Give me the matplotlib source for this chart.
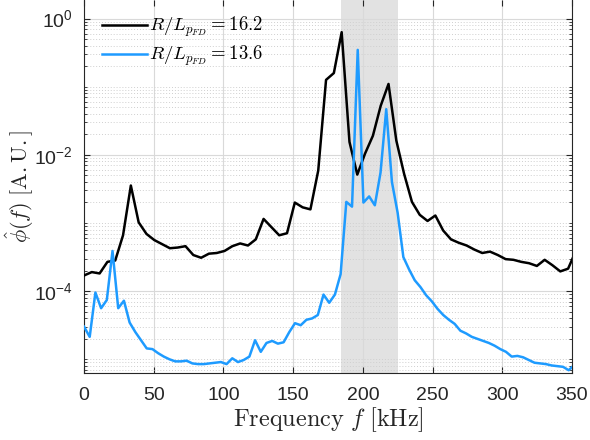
import numpy as np
import matplotlib
matplotlib.use("Agg")
import matplotlib.pyplot as plt
from matplotlib.ticker import FixedLocator, FuncFormatter

# sample grids (kHz) of the two spectra
f_black = np.arange(64) * 5.6
f_blue = np.arange(87) * 4.09

# log10 of phi_hat(f)
black_log10 = [
    -3.77, -3.72, -3.74, -3.57, -3.55, -3.18, -2.45, -2.99, -3.16, -3.25,
    -3.31, -3.37, -3.36, -3.34, -3.47, -3.51, -3.45, -3.44, -3.41, -3.34,
    -3.30, -3.33, -3.24, -2.94, -3.06, -3.18, -3.15, -2.70, -2.77, -2.80,
    -2.23, -0.90, -0.80, -0.20, -1.81, -2.29, -1.98, -1.72, -1.28, -0.96,
    -1.79, -2.28, -2.69, -2.88, -2.97, -2.89, -3.11, -3.24, -3.29, -3.33,
    -3.39, -3.44, -3.42, -3.47, -3.53, -3.54, -3.57, -3.59, -3.63, -3.54,
    -3.62, -3.71, -3.67, -3.41,
]
blue_log10 = [
    -4.52, -4.67, -4.02, -4.25, -4.13, -3.41, -4.25, -4.14, -4.46, -4.60,
    -4.72, -4.84, -4.85, -4.91, -4.96, -5.00, -5.03, -5.03, -5.02, -5.06,
    -5.07, -5.07, -5.06, -5.05, -5.04, -5.07, -4.985, -5.04, -5.01, -4.96,
    -4.72, -4.89, -4.76, -4.73, -4.77, -4.75, -4.60, -4.47, -4.50, -4.42,
    -4.40, -4.35, -4.05, -4.17, -4.05, -3.75, -2.69, -2.76, -0.46, -2.70,
    -2.61, -2.74, -2.26, -1.33, -2.40, -2.85, -3.50, -3.68, -3.84, -3.94,
    -4.06, -4.15, -4.26, -4.35, -4.42, -4.48, -4.58, -4.62, -4.67, -4.70,
    -4.73, -4.76, -4.80, -4.85, -4.89, -4.96, -4.95, -4.97, -5.01, -5.05,
    -5.06, -5.07, -5.09, -5.10, -5.11, -5.16, -5.08,
]
labels = [r"$R/L_{p_{FD}} = 16.2$", r"$R/L_{p_{FD}} = 13.6$"]
band = (184.4, 225.2)
x_ticks = [0, 50, 100, 150, 200, 250, 300, 350]

plt.rcParams["font.family"] = ["Liberation Sans", "DejaVu Sans"]
plt.rcParams["mathtext.fontset"] = "custom"
plt.rcParams["mathtext.rm"] = "Liberation Sans"
plt.rcParams["mathtext.it"] = "Liberation Sans:italic"

tick_col = "#262626"

fig = plt.figure(figsize=(5.9, 4.4), dpi=100)
ax = fig.add_axes([84 / 590, 1 - 373 / 440, 488 / 590, 373 / 440])

ax.axvspan(*band, color="#e2e2e2", lw=0, zorder=0.2)
ax.plot(f_black, 10 ** np.array(black_log10), color="black", lw=1.8,
        label=labels[0], zorder=3)
ax.plot(f_blue, 10 ** np.array(blue_log10), color="#1e9bff", lw=1.8,
        label=labels[1], zorder=3)

ax.set_yscale("log")
ax.set_xlim(0, 350)
ax.set_ylim(6.3e-6, 1.87)

ax.set_xticks(x_ticks)
ax.yaxis.set_major_locator(FixedLocator([1e-4, 1e-2, 1]))
minors = [k * 10.0 ** n for n in range(-6, 1) for k in range(1, 10)
          if not (k == 1 and n in (-4, -2, 0))]
ax.yaxis.set_minor_locator(FixedLocator(minors))
ax.yaxis.set_major_formatter(FuncFormatter(
    lambda v, p: r"10$^{%d}$" % int(round(np.log10(v)))))
ax.yaxis.set_minor_formatter(FuncFormatter(lambda v, p: ""))

ax.set_axisbelow(True)
ax.grid(True, which="major", axis="both", color="#d9d9d9", lw=0.8)
ax.grid(True, which="minor", axis="y", color="#cfcfcf", lw=0.7, ls=(0, (1, 2)))

ax.tick_params(which="both", direction="in", top=True, right=True,
               colors=tick_col, labelsize=14)
ax.tick_params(which="major", length=4)
ax.tick_params(which="minor", length=2)
ax.tick_params(axis="x", pad=10)
ax.tick_params(axis="y", pad=8)
for s in ax.spines.values():
    s.set_color(tick_col)
    s.set_linewidth(0.8)
ax.spines["top"].set_visible(False)

ax.set_xlabel(r"$\mathrm{Frequency}\ f\ \mathrm{[kHz]}$", fontsize=17.5,
              color=tick_col, math_fontfamily="cm", labelpad=1)
ax.set_ylabel(r"$\hat{\phi}(f)\ \mathrm{[A.U.]}$", fontsize=16,
              color=tick_col, math_fontfamily="cm")
ax.yaxis.set_label_coords(-0.099, 0.5)

leg = ax.legend(loc="upper left", bbox_to_anchor=(0.025, 0.975), frameon=False,
                handlelength=2.4, handletextpad=0.1, labelspacing=0.25,
                borderaxespad=0, borderpad=0.3, fontsize=13.5)
for t in leg.get_texts():
    t.set_math_fontfamily("cm")

fig.savefig("out.png", dpi=100)
